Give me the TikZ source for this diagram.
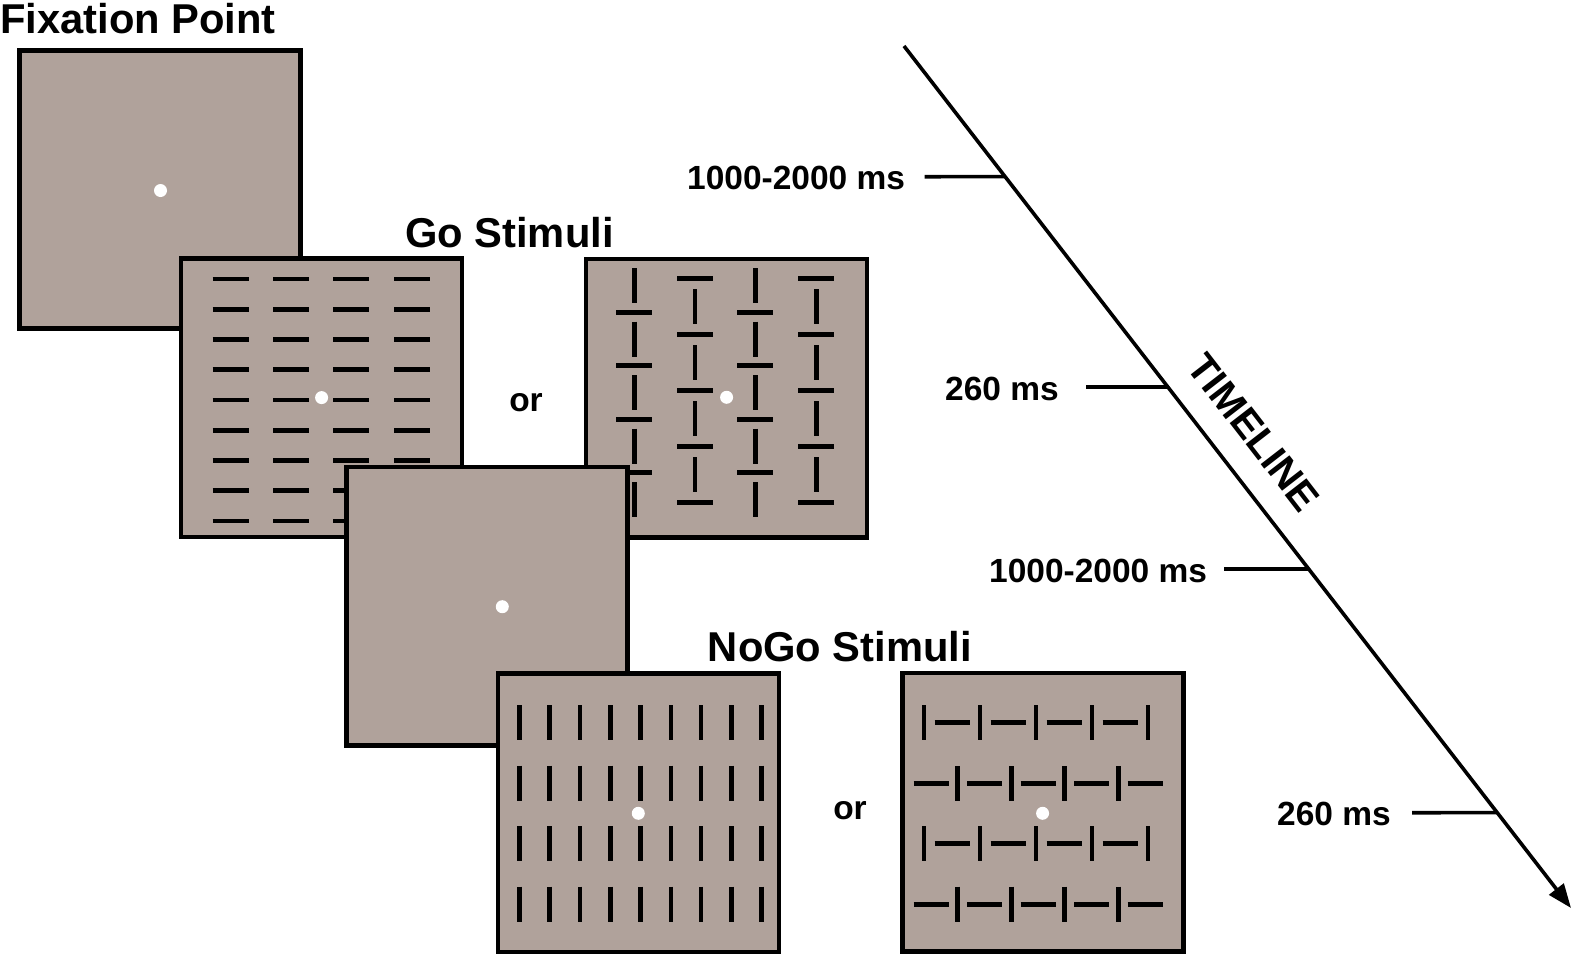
\documentclass[tikz,border=0pt]{standalone}
\usepackage{fontspec}
\setmainfont{Liberation Sans}
\usetikzlibrary{arrows.meta,calc}
\definecolor{panelfill}{RGB}{176,162,155}
\begin{document}
\begin{tikzpicture}[x=1pt,y=-1pt,
  panel/.style={draw=black, line width=4.6pt, fill=panelfill, rectangle,
    minimum width=281pt, minimum height=278.5pt, inner sep=0pt, outer sep=0pt},
  bar/.style={line width=4.6pt, line cap=butt},
  fixdot/.style={circle, fill=white, inner sep=0pt, minimum size=13pt},
  lbl/.style={font=\bfseries\fontsize{33.5}{33}\selectfont, inner sep=0pt, anchor=base west},
  orlbl/.style={font=\bfseries\fontsize{33.5}{33}\selectfont, inner sep=0pt, anchor=base},
  ttl/.style={font=\bfseries\fontsize{41.7}{42}\selectfont, inner sep=0pt, anchor=base west},
  tline/.style={line width=3.6pt}]
\useasboundingbox (0,0) rectangle (1575,959);

% Fixation panel
\node[panel] (fix) at (160.15,189.5) {};
\node[fixdot] (fixd) at (160.5,190.5) {};

% Go panel 1: horizontal bars
\node[panel] (go1) at (321.5,397.75) {};
\foreach \cx in {230.5,291,351.3,412}
  \foreach \i in {0,...,8}
    \draw[bar] (\cx-18,279+30.25*\i) -- (\cx+18,279+30.25*\i);
\node[fixdot] (go1d) at (321.6,397.6) {};

% Go panel 2: mixed bars
\node[panel] (go2) at (726.5,398.15) {};
\foreach \cx in {634.3,755.3}{
  \foreach \k in {0,...,4}
    \draw[bar] (\cx,285.5+53.5*\k-17.5) -- (\cx,285.5+53.5*\k+17.5);
  \foreach \k in {0,...,3}
    \draw[bar] (\cx-18,312.25+53.5*\k) -- (\cx+18,312.25+53.5*\k);
}
\foreach \cx in {695,816.3}{
  \foreach \k in {0,...,4}
    \draw[bar] (\cx-18,278.7+56*\k) -- (\cx+18,278.7+56*\k);
  \foreach \k in {0,...,3}
    \draw[bar] (\cx,306.7+56*\k-17.5) -- (\cx,306.7+56*\k+17.5);
}
\node[fixdot] (go2d) at (726.6,397.3) {};

% Blank panel
\node[panel] (blank) at (486.8,606.3) {};
\node[fixdot] (blankd) at (502.3,606.7) {};

% NoGo panel 1: vertical bars
\node[panel] (nogo1) at (638.3,812.65) {};
\foreach \y in {722.5,783.2,843.5,904.2}
  \foreach \k in {0,...,8}
    \draw[bar] (519.3+30.3*\k,\y-17.5) -- (519.3+30.3*\k,\y+17.5);
\node[fixdot] (nogo1d) at (638.3,813.3) {};

% NoGo panel 2: mixed rows
\node[panel] (nogo2) at (1042.75,812.25) {};
\foreach \y in {722.5,843.5}{
  \foreach \k in {0,...,4}
    \draw[bar] (924+56*\k,\y-17.5) -- (924+56*\k,\y+17.5);
  \foreach \k in {0,...,3}
    \draw[bar] (952+56*\k-17.5,\y) -- (952+56*\k+17.5,\y);
}
\foreach \y in {783.5,904.2}{
  \foreach \k in {0,...,4}
    \draw[bar] (931+53.5*\k-17.5,\y) -- (931+53.5*\k+17.5,\y);
  \foreach \k in {0,...,3}
    \draw[bar] (957.75+53.5*\k,\y-17.5) -- (957.75+53.5*\k,\y+17.5);
}
\node[fixdot] (nogo2d) at (1042.6,813.3) {};

% Titles
\node[ttl] (tfix) at (0,33) {Fixation Point};
\node[ttl] (tgo) at (405,247.7) {Go Stimuli};
\node[ttl] (tnogo) at (707.7,661.5) {NoGo Stimuli};
\node[orlbl] (or1) at (526,411.5) {or};
\node[orlbl] (or2) at (850,819.5) {or};

% Timeline
\coordinate (tlA) at (904,46);
\coordinate (tlB) at (1571,908);
\draw[tline,-{Triangle[length=24pt,width=18pt]}] (tlA) -- (tlB);
\node[font=\bfseries\fontsize{40}{40}\selectfont, inner sep=0pt, anchor=base, rotate=-52.27]
  (tlabel) at (1243,441) {TIMELINE};

% Ticks and duration labels
\coordinate (e1) at ($(tlA)!0.1516!(tlB)$);
\coordinate (e2) at ($(tlA)!0.3956!(tlB)$);
\coordinate (e3) at ($(tlA)!0.6067!(tlB)$);
\coordinate (e4) at ($(tlA)!0.8894!(tlB)$);
\coordinate (s1) at (924.7,176.7);
\coordinate (s2) at (1086,387);
\coordinate (s3) at (1224,569);
\coordinate (s4) at (1412,812.7);
\draw[tline] (s1) -- (e1);
\draw[tline] (s2) -- (e2);
\draw[tline] (s3) -- (e3);
\draw[tline] (s4) -- (e4);
\node[lbl] (d1) at (687,189.3) {1000-2000 ms};
\node[lbl] (d2) at (945,400.5) {260 ms};
\node[lbl] (d3) at (989,582) {1000-2000 ms};
\node[lbl] (d4) at (1277,825) {260 ms};
\end{tikzpicture}
\end{document}
